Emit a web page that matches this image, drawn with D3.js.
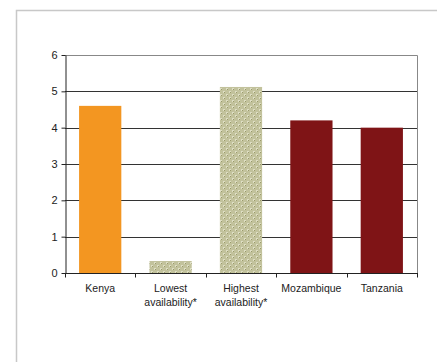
<!DOCTYPE html>
<html>
<head>
<meta charset="utf-8">
<script src="https://cdn.jsdelivr.net/npm/d3@7"></script>
<style>
    body { margin: 0; background: #fff; }
    svg { display: block; font-family: "Liberation Sans", Arial, sans-serif; }
</style>
</head>
<body>
<svg id="chart" width="437" height="362"></svg>
<script>
const categories = ["Kenya", "Lowest\navailability*", "Highest\navailability*", "Mozambique", "Tanzania"];
const values = [4.6, 0.33, 5.12, 4.2, 4.0];
const fills = ["#f39621", "url(#checker)", "url(#checker)", "#7f1416", "#7f1416"];
const yTicks = [0, 1, 2, 3, 4, 5, 6];

const svg = d3.select("#chart");
const margin = { left: 65, right: 20, top: 55, bottom: 89 };
const width = 437;
const height = 362;

// checkered fill for the availability bars
const pat = svg.append("defs").append("pattern")
    .attr("id", "checker")
    .attr("width", 6)
    .attr("height", 6)
    .attr("patternUnits", "userSpaceOnUse");
pat.append("rect").attr("width", 6).attr("height", 6).attr("fill", "#c2c29c");
pat.append("rect").attr("x", 1).attr("y", 1).attr("width", 2).attr("height", 2).attr("fill", "#dedec4");
pat.append("rect").attr("x", 4).attr("y", 4).attr("width", 2).attr("height", 2).attr("fill", "#dedec4");
pat.append("rect").attr("x", 2).attr("y", 2).attr("width", 1).attr("height", 1).attr("fill", "#9a9a6a");
pat.append("rect").attr("x", 5).attr("y", 5).attr("width", 1).attr("height", 1).attr("fill", "#9a9a6a");

// outer frame
svg.append("path")
    .attr("d", `M16.5,${height} V10.5 H${width}`)
    .attr("fill", "none")
    .attr("stroke", "#c8c8c8")
    .attr("stroke-width", 1.5);

const x = d3.scaleBand()
    .domain(categories)
    .range([margin.left, width - margin.right])
    .paddingInner(0.4)
    .paddingOuter(0.2);

const y = d3.scaleLinear()
    .domain([0, 6])
    .range([height - margin.bottom, margin.top]);

// gridlines
svg.append("g")
    .selectAll("line")
    .data(yTicks.filter(d => d > 0 && d < 6))
    .join("line")
    .attr("x1", margin.left)
    .attr("x2", width - margin.right)
    .attr("y1", d => Math.round(y(d)) + 0.5)
    .attr("y2", d => Math.round(y(d)) + 0.5)
    .attr("stroke", "#333");

// plot box top and right
svg.append("path")
    .attr("d", `M${margin.left},${margin.top + 0.5} H${width - margin.right + 0.5} V${height - margin.bottom}`)
    .attr("fill", "none")
    .attr("stroke", "#888");

// bars
svg.append("g")
    .selectAll("rect")
    .data(values)
    .join("rect")
    .attr("x", (d, i) => x(categories[i]))
    .attr("width", x.bandwidth())
    .attr("y", d => y(d))
    .attr("height", d => y(0) - y(d))
    .attr("fill", (d, i) => fills[i]);

// y axis
const yAxis = svg.append("g")
    .attr("transform", `translate(${margin.left + 0.5},0)`)
    .call(d3.axisLeft(y).tickValues(yTicks).tickSize(4).tickSizeOuter(0).tickFormat(d3.format("d")));
yAxis.select(".domain").attr("stroke", "#222");
yAxis.selectAll(".tick line").attr("stroke", "#222");
yAxis.selectAll(".tick text")
    .attr("font-size", 11)
    .attr("fill", "#222")
    .attr("font-family", "Liberation Sans, Arial, sans-serif")
    .attr("x", -8);

// x axis with ticks between categories
const xAxis = svg.append("g")
    .attr("transform", `translate(0,${Math.round(y(0)) + 0.5})`);
xAxis.append("line")
    .attr("x1", margin.left)
    .attr("x2", width - margin.right + 1)
    .attr("stroke", "#222");
const step = x.step();
const edges = d3.range(categories.length + 1).map(i => x(categories[0]) - x.paddingOuter() * step + i * step);
xAxis.selectAll(".edge")
    .data(edges)
    .join("line")
    .attr("class", "edge")
    .attr("x1", d => Math.round(d) + 0.5)
    .attr("x2", d => Math.round(d) + 0.5)
    .attr("y1", 0)
    .attr("y2", 4)
    .attr("stroke", "#222");

const labels = xAxis.selectAll(".lbl")
    .data(categories)
    .join("text")
    .attr("class", "lbl")
    .attr("text-anchor", "middle")
    .attr("font-size", 10.5)
    .attr("fill", "#222")
    .attr("transform", d => `translate(${x(d) + x.bandwidth() / 2},18)`);
labels.selectAll("tspan")
    .data(d => d.split("\n"))
    .join("tspan")
    .attr("x", 0)
    .attr("dy", (d, i) => i === 0 ? 0 : 14)
    .text(d => d);
</script>
</body>
</html>
